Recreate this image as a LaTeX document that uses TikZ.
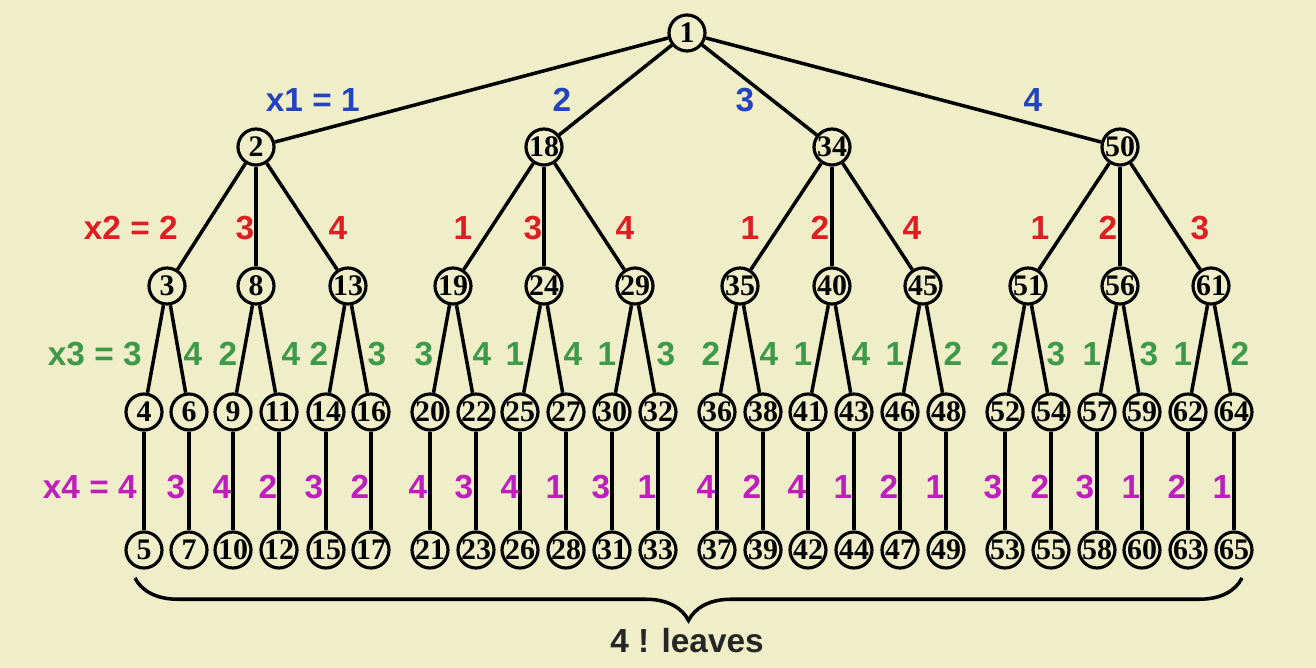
\documentclass[tikz,border=0pt]{standalone}
\usepackage{fontspec}
\setmainfont{Liberation Serif}
\setsansfont{Liberation Sans}
\usetikzlibrary{decorations.pathreplacing}

\definecolor{bgyellow}{RGB}{240,238,200}
\definecolor{xoneblue}{RGB}{34,68,190}
\definecolor{xtwored}{RGB}{222,30,34}
\definecolor{xthreegreen}{RGB}{60,154,74}
\definecolor{xfourpurple}{RGB}{190,30,190}

\tikzset{
  vert/.style={circle, draw=black, line width=1.8pt, minimum size=0.72cm, inner sep=0pt,
               font=\fontsize{17}{17}\selectfont\bfseries},
  branch/.style={line width=2pt},
  lab/.style={font=\sffamily\bfseries\fontsize{19}{19}\selectfont, inner sep=0pt}
}

\begin{document}
\begin{tikzpicture}[x=0.02cm, y=-0.02cm]
  \fill[bgyellow] (0,0) rectangle (1316,668);
  \useasboundingbox (0,0) rectangle (1316,668);

  % root and first level
  \node[vert] (n1) at (687,33) {1};
  \foreach \k/\x in {2/256, 18/544, 34/832, 50/1120}
    \node[vert] (n\k) at (\x,147) {\k};

  % second level
  \foreach \k/\x in {3/167, 8/256, 13/348, 19/453, 24/544, 29/635,
                     35/740, 40/832, 45/923, 51/1028, 56/1120, 61/1211}
    \node[vert] (n\k) at (\x,286) {\k};

  % third level and leaves
  \foreach \k/\x in {4/144, 6/189, 9/233, 11/279, 14/326, 16/371,
                     20/430, 22/476, 25/520, 27/566, 30/612, 32/658,
                     36/717, 38/763, 41/808, 43/854, 46/900, 48/946,
                     52/1005, 54/1051, 57/1097, 59/1142, 62/1188, 64/1234}{
    \pgfmathtruncatemacro{\leaf}{\k+1}
    \node[vert] (n\k) at (\x,412) {\k};
    \node[vert] (n\leaf) at (\x,550) {\leaf};
    \draw[branch] (n\k) -- (n\leaf);
  }

  % edges
  \foreach \c in {2,18,34,50}
    \draw[branch] (n1) -- (n\c);
  \foreach \p/\a/\b/\c in {2/3/8/13, 18/19/24/29, 34/35/40/45, 50/51/56/61}{
    \draw[branch] (n\p) -- (n\a);
    \draw[branch] (n\p) -- (n\b);
    \draw[branch] (n\p) -- (n\c);
  }
  \foreach \p/\a/\b in {3/4/6, 8/9/11, 13/14/16, 19/20/22, 24/25/27, 29/30/32,
                        35/36/38, 40/41/43, 45/46/48, 51/52/54, 56/57/59, 61/62/64}{
    \draw[branch] (n\p) -- (n\a);
    \draw[branch] (n\p) -- (n\b);
  }

  % choices x1..x4
  \node[lab, xoneblue, anchor=east] (xa0) at (360,100) {x1 = 1};
  \foreach \x/\t [count=\i] in {562/2, 745/3, 1033/4}
    \node[lab, xoneblue] (xa\i) at (\x,100) {\t};

  \node[lab, xtwored, anchor=east] (xb0) at (178,228) {x2 = 2};
  \foreach \x/\t [count=\i] in {245/3, 338/4, 463/1, 533/3, 625/4, 750/1,
                                820/2, 912/4, 1040/1, 1108/2, 1200/3}
    \node[lab, xtwored] (xb\i) at (\x,228) {\t};

  \node[lab, xthreegreen, anchor=east] (xc0) at (142,354) {x3 = 3};
  \foreach \x/\t [count=\i] in {193/4, 228/2, 291/4, 319/2, 377/3, 424/3,
                                482/4, 515/1, 573/4, 607/1, 666/3, 711/2,
                                769/4, 803/1, 861/4, 895/1, 953/2, 1000/2,
                                1056/3, 1092/1, 1149/3, 1183/1, 1240/2}
    \node[lab, xthreegreen] (xc\i) at (\x,354) {\t};

  \node[lab, xfourpurple, anchor=east] (xd0) at (137,487) {x4 = 4};
  \foreach \x/\t [count=\i] in {176/3, 222/4, 268/2, 314/3, 360/2, 418/4,
                                464/3, 510/4, 555/1, 601/3, 647/1, 706/4,
                                752/2, 797/4, 843/1, 889/2, 935/1, 993/3,
                                1040/2, 1085/3, 1131/1, 1177/2, 1222/1}
    \node[lab, xfourpurple] (xd\i) at (\x,487) {\t};

  % leaves brace
  \coordinate (bl) at (135,578);
  \coordinate (br) at (1242,578);
  \draw[branch, decorate, decoration={brace, mirror, amplitude=0.85cm}]
    (bl) -- (br);
  \node[lab, black!85] (count) at (687,641) {4 ! leaves};
\end{tikzpicture}
\end{document}
